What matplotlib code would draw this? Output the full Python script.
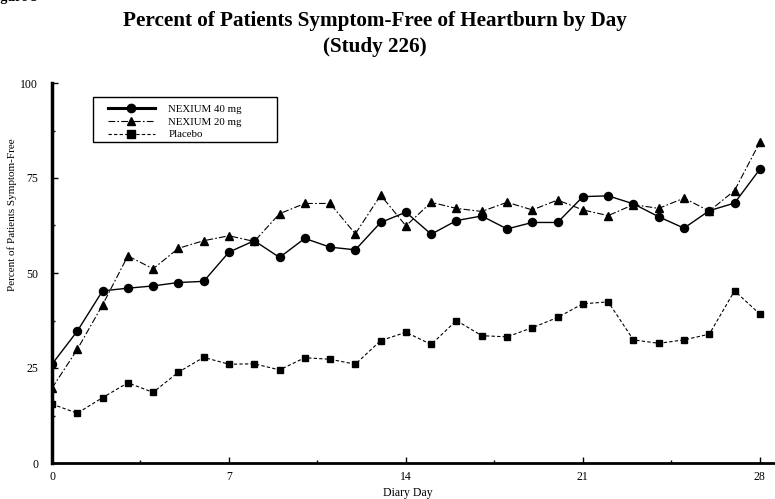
import matplotlib
matplotlib.use('Agg')
import matplotlib.pyplot as plt
from matplotlib.lines import Line2D
from matplotlib.patches import Rectangle

days = list(range(29))
nexium40 = [26.0, 34.7, 45.3, 46.0, 46.6, 47.5, 47.8, 55.5, 58.5, 54.1,
            59.1, 56.8, 56.1, 63.3, 66.0, 60.2, 63.8, 65.0, 61.6, 63.3,
            63.3, 70.1, 70.3, 68.2, 64.8, 61.8, 66.4, 68.4, 77.3]
nexium20 = [19.7, 29.9, 41.6, 54.5, 51.1, 56.5, 58.5, 59.8, 58.3, 65.6,
            68.3, 68.3, 60.3, 70.5, 62.4, 68.6, 67.0, 66.2, 68.6, 66.6,
            69.2, 66.6, 65.1, 68.0, 67.0, 69.7, 66.3, 71.7, 84.4]
placebo = [15.5, 13.1, 17.2, 21.1, 18.6, 23.9, 27.8, 26.0, 26.1, 24.5,
           27.7, 27.3, 26.0, 32.2, 34.4, 31.2, 37.5, 33.5, 33.2, 35.6,
           38.3, 41.9, 42.4, 32.4, 31.5, 32.4, 33.9, 45.3, 39.2]
labels = ['NEXIUM 40 mg', 'NEXIUM 20 mg', 'Placebo']
x_ticks = [0, 7, 14, 21, 28]
y_ticks = [0, 25, 50, 75, 100]

W, H = 775, 499
plt.rcParams['font.family'] = ['Liberation Serif', 'DejaVu Serif']

fig = plt.figure(figsize=(W / 100, H / 100), dpi=100)
# axes placed in pixels: x=0 at 52px, y=0 at 463px, y=100 at 83px
ax = fig.add_axes([52 / W, (H - 463) / H, 1 - 52 / W, (463 - 83) / H])

ax.plot(days, placebo, color='black', lw=0.8, dashes=(3, 2),
        marker='s', ms=5, mec='black', mfc='black')
ax.plot(days, nexium20, color='black', lw=0.8, dashes=(6, 2, 1.5, 2),
        marker='^', ms=5.5, mec='black', mfc='black')
ax.plot(days, nexium40, color='black', lw=1.0, ls='-',
        marker='o', ms=5.8, mec='black', mfc='black')

ax.set_xlim(0, 28.6)
ax.set_ylim(0, 100)
ax.set_xticks(x_ticks)
ax.set_xticks([3.5, 10.5, 17.5, 24.5], minor=True)
ax.set_yticks(y_ticks)
ax.set_yticks([12.5, 37.5, 62.5, 87.5], minor=True)
ax.tick_params(which='major', direction='in', length=4, width=1,
               labelsize=8.5, pad=6)
ax.tick_params(which='minor', direction='in', length=2, width=1)
ax.tick_params(axis='y', pad=10)

for s in ['top', 'right']:
    ax.spines[s].set_visible(False)
ax.spines['left'].set_linewidth(2.5)
ax.spines['bottom'].set_linewidth(2)
ax.patch.set_alpha(0)

# legend
handles = [
    Line2D([], [], color='black', lw=2.2, marker='o', ms=6),
    Line2D([], [], color='black', lw=0.8, dashes=(6, 2, 1.5, 2), marker='^', ms=6),
    Line2D([], [], color='black', lw=0.8, dashes=(3, 2), marker='s', ms=5.5),
]
leg = fig.legend(handles, labels, loc='upper left',
                 bbox_to_anchor=(100 / W, 1 - 97 / H), frameon=False,
                 fontsize=7.8, handlelength=4.4, handletextpad=1.2,
                 labelspacing=0.28, borderpad=0.2, numpoints=1)
fig.patches.append(Rectangle((93 / W, 1 - 142 / H), 184 / W, 45 / H,
                             transform=fig.transFigure, fill=False,
                             ec='black', lw=1))

fig.text(375 / W, 1 - 26 / H, 'Percent of Patients Symptom-Free of Heartburn by Day',
         ha='center', va='baseline', fontsize=15.2, fontweight='bold')
fig.text(375 / W, 1 - 52 / H, '(Study 226)',
         ha='center', va='baseline', fontsize=15.2, fontweight='bold')
fig.text(-12 / W, 1 - 1.5 / H, 'Figure 3', ha='left', va='baseline',
         fontsize=10, fontweight='bold')

fig.text(12 / W, 1 - 215 / H, 'Percent of Patients Symptom-Free',
         rotation=90, ha='center', va='center', fontsize=8)
fig.text(408 / W, 1 - 493 / H, 'Diary Day', ha='center', va='center',
         fontsize=8.5)

fig.savefig('out.png', dpi=100)
